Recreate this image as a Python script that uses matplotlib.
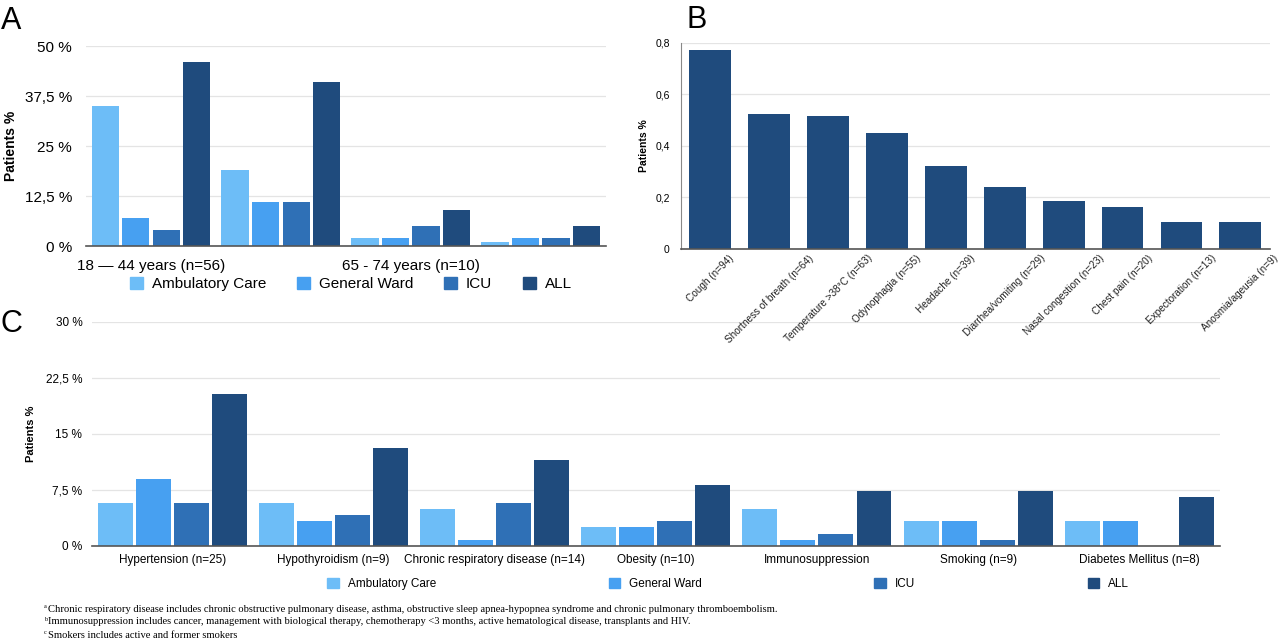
import numpy as np
import matplotlib
matplotlib.use("Agg")
import matplotlib.pyplot as plt
from matplotlib.patches import Patch

# ==========================================================
# DATA
# ==========================================================

care_levels = ["Ambulatory Care", "General Ward", "ICU", "ALL"]
care_colors = ["#6DBDF7", "#47A0F1", "#2F70B6", "#1F4B7D"]

# Panel A - age groups (only two labels shown in the original)
age_labels = ["18 \u2014 44 years (n=56)", "", "65 - 74 years (n=10)", ""]
age_ambulatory = [35, 19, 2, 1]
age_ward = [7, 11, 2, 2]
age_icu = [4, 11, 5, 2]
age_all = [46, 41, 9, 5]

# Panel B - symptoms
symptom_labels = [
    "Cough (n=94)",
    "Shortness of breath (n=64)",
    "Temperature >38\u00b0C (n=63)",
    "Odynophagia (n=55)",
    "Headache (n=39)",
    "Diarrhea/vomiting (n=29)",
    "Nasal congestion (n=23)",
    "Chest pain (n=20)",
    "Expectoration (n=13)",
    "Anosmia/ageusia (n=9)",
]
symptom_values = [0.772, 0.525, 0.517, 0.451, 0.322, 0.239, 0.188, 0.164, 0.106, 0.106]

# Panel C - comorbidities
comorb_labels = [
    "Hypertension (n=25)",
    "Hypothyroidism (n=9)",
    "Chronic respiratory disease (n=14)",
    "Obesity (n=10)",
    "Immunosuppression",
    "Smoking (n=9)",
    "Diabetes Mellitus (n=8)",
]
comorb_ambulatory = [5.7, 5.7, 4.9, 2.5, 4.9, 3.3, 3.3]
comorb_ward = [9.0, 3.3, 0.8, 2.5, 0.8, 3.3, 3.3]
comorb_icu = [5.7, 4.1, 5.7, 3.3, 1.6, 0.8, 0.0]
comorb_all = [20.4, 13.1, 11.5, 8.2, 7.4, 7.4, 6.6]

footnotes = [
    ("a", "Chronic respiratory disease includes chronic obstructive pulmonary disease, asthma, "
          "obstructive sleep apnea-hypopnea syndrome and chronic pulmonary thromboembolism."),
    ("b", "Immunosuppression includes cancer, management with biological therapy, chemotherapy <3 months, "
          "active hematological disease, transplants and HIV."),
    ("c", "Smokers includes active and former smokers"),
]

# ==========================================================
# STYLE
# ==========================================================

plt.rcParams["font.family"] = ["Liberation Sans", "DejaVu Sans"]

GRID = "#e4e4e4"
AXIS = "#555555"


def style_axes(ax, left_spine=False):
    for side in ["top", "right", "left"]:
        ax.spines[side].set_visible(False)
    if left_spine:
        ax.spines["left"].set_visible(True)
        ax.spines["left"].set_color("#888888")
    ax.spines["bottom"].set_color(AXIS)
    ax.spines["bottom"].set_linewidth(1.2)
    ax.yaxis.grid(True, color=GRID, linewidth=0.9)
    ax.set_axisbelow(True)
    ax.tick_params(length=0)
    ax.patch.set_alpha(0)


def grouped_bars(ax, series, step, width):
    x = np.arange(len(series[0]))
    for i, (vals, color) in enumerate(zip(series, care_colors)):
        ax.bar(x + (i - 1.5) * step, vals, width=width, color=color)
    return x


fig = plt.figure(figsize=(12.8, 6.4), dpi=100)

# ==========================================================
# PANEL A
# ==========================================================

axA = fig.add_axes([0.0672, 0.6156, 0.406, 0.3125])
xa = grouped_bars(axA, [age_ambulatory, age_ward, age_icu, age_all], 0.235, 0.21)
axA.set_xlim(-0.5, len(xa) - 0.5)
axA.set_ylim(0, 50)
axA.set_yticks([0, 12.5, 25, 37.5, 50])
axA.set_yticklabels(["0 %", "12,5 %", "25 %", "37,5 %", "50 %"], fontsize=11)
axA.set_xticks(xa)
axA.set_xticklabels(age_labels, fontsize=11)
axA.tick_params(axis="y", pad=10)
axA.tick_params(axis="x", pad=9)
axA.set_ylabel("Patients %", fontsize=10, fontweight="bold")
axA.yaxis.set_label_coords(-0.131, 0.5)
style_axes(axA)

handles = [Patch(color=c, label=l) for c, l in zip(care_colors, care_levels)]
fig.legend(handles=handles, loc="center", bbox_to_anchor=(0.274, 0.556), ncol=4,
           frameon=False, fontsize=11, handlelength=0.85, handleheight=0.85,
           handletextpad=0.6, columnspacing=2.0)

fig.text(0.001, 0.955, "A", fontsize=22, va="baseline")

# ==========================================================
# PANEL C (drawn first so panel B labels sit on top)
# ==========================================================

axC = fig.add_axes([0.0719, 0.147, 0.881, 0.35])
xc = grouped_bars(axC, [comorb_ambulatory, comorb_ward, comorb_icu, comorb_all], 0.236, 0.217)
axC.set_xlim(-0.5, len(xc) - 0.5)
axC.set_ylim(0, 30)
axC.set_yticks([0, 7.5, 15, 22.5, 30])
axC.set_yticklabels(["0 %", "7,5 %", "15 %", "22,5 %", "30 %"], fontsize=8.5)
axC.set_xticks(xc)
axC.set_xticklabels(comorb_labels, fontsize=8.5)
axC.tick_params(axis="y", pad=7)
axC.tick_params(axis="x", pad=6)
axC.set_ylabel("Patients %", fontsize=8, fontweight="bold")
axC.yaxis.set_label_coords(-0.050, 0.5)
style_axes(axC)
axC.set_zorder(1)

fig.legend(handles=handles, loc="center", bbox_to_anchor=(0.569, 0.0875), ncol=4,
           frameon=False, fontsize=8.5, handlelength=0.95, handleheight=0.95,
           handletextpad=0.8, columnspacing=14.6)

fig.text(0.0, 0.482, "C", fontsize=22, va="baseline")

# ==========================================================
# PANEL B
# ==========================================================

axB = fig.add_axes([0.532, 0.611, 0.460, 0.322])
xb = np.arange(len(symptom_values))
axB.bar(xb, symptom_values, width=0.71, color="#1F4B7D")
axB.set_xlim(-0.5, len(xb) - 0.5)
axB.set_ylim(0, 0.8)
axB.set_yticks([0, 0.2, 0.4, 0.6, 0.8])
axB.set_yticklabels(["0", "0,2", "0,4", "0,6", "0,8"], fontsize=7.5)
axB.set_xticks(xb)
axB.set_xticklabels(symptom_labels, fontsize=7.2, rotation=45, ha="center", va="top",
                    color="#222222")
axB.tick_params(axis="x", pad=3)
axB.tick_params(axis="y", pad=8)
axB.set_ylabel("Patients %", fontsize=7.5, fontweight="bold")
axB.yaxis.set_label_coords(-0.055, 0.5)
style_axes(axB, left_spine=True)
axB.set_zorder(2)

fig.text(0.536, 0.956, "B", fontsize=22, va="baseline")

# ==========================================================
# FOOTNOTES
# ==========================================================

for i, (mark, note) in enumerate(footnotes):
    y = 1 - (609 + 13 * i) / 640
    fig.text(44 / 1280, y + 0.004, mark, fontsize=4.5, va="center",
             family=["Liberation Serif", "DejaVu Serif"])
    fig.text(48 / 1280, y, note, fontsize=7.6, va="center",
             family=["Liberation Serif", "DejaVu Serif"])

fig.savefig("out.png", dpi=100)
